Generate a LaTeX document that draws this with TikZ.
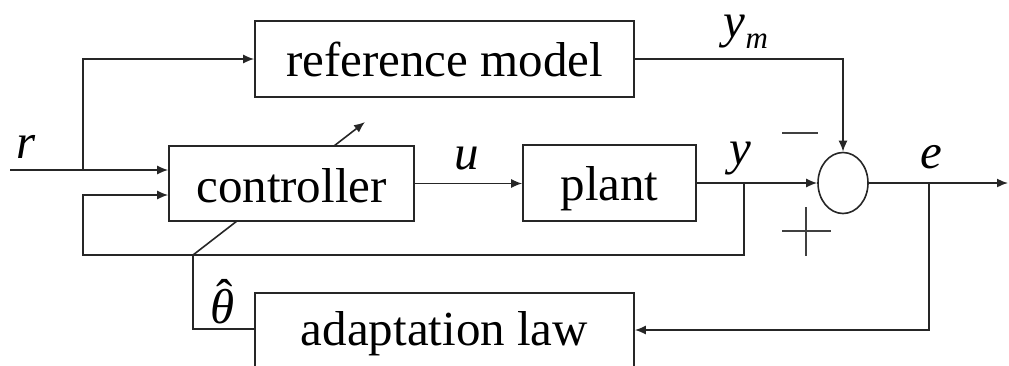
\documentclass[tikz,border=0pt]{standalone}
\usepackage{fontspec}
\setmainfont{Liberation Serif}
\usetikzlibrary{arrows.meta,shapes.geometric}
\colorlet{ln}{black!85}
\begin{document}
\begin{tikzpicture}[x=1pt,y=-1pt,
  line width=1.6pt,
  wire/.style={draw=ln},
  arr/.style={draw=ln,-{Latex[length=11pt,width=9pt]}},
  block/.style={draw=ln,line width=1.6pt,rectangle,inner sep=0pt,text height=35pt,text depth=0pt,font=\fontsize{49}{49}\selectfont},
  lbl/.style={inner sep=0pt,anchor=base,font=\fontsize{49}{49}\selectfont\itshape},
  sign/.style={line width=1.3pt,draw=black!75}]
\useasboundingbox (0,0) rectangle (1009,365);
\clip (0,0) rectangle (1009,365);

\node[block,minimum width=379pt,minimum height=76pt] (refm) at (444.5,59) {reference model};
\node[block,minimum width=173pt,minimum height=76pt] (plant) at (609.5,183) {plant};
\node[block,text height=12pt,minimum width=379pt,minimum height=92pt] (adapt) at (444.5,339) {adaptation law};
\node[draw=ln,line width=1.6pt,ellipse,inner sep=0pt,minimum width=50pt,minimum height=61pt] (sum) at (843,183) {};

\coordinate (rin) at (10,170);
\coordinate (rsplit) at (83,170);
\coordinate (fbl) at (83,195);
\coordinate (fbbl) at (83,255);
\coordinate (ysplit) at (744,183);
\coordinate (fbbr) at (744,255);
\coordinate (thstart) at (193,255);
\coordinate (thend) at (365,122);
\coordinate (thlow) at (193,329);
\coordinate (esplit) at (929,183);
\coordinate (elow) at (929,330);
\coordinate (out) at (1008,183);

% adaptation arrow through controller (drawn first, controller box covers it)
\draw[arr] (thstart) -- (thend);
\node[block,fill=white,text height=37pt,minimum width=245pt,minimum height=75pt] (ctrl) at (291.5,183.5) {controller};

% r input
\draw[arr] (rin) -- (ctrl.west |- rin);
\draw[arr] (rsplit) |- (refm.west);
% feedback of y
\draw[arr] (ysplit) -- (fbbr) -- (fbbl) -- (fbl) -- (ctrl.west |- fbl);
\draw[wire] (thstart) -- (thlow) -- (adapt.west |- thlow);
% forward path
\draw[arr] (ctrl.east) -- (plant.west |- ctrl.east);
\draw[arr] (plant.east) -- (sum.west);
\draw[arr] (refm.east) -| (sum.north);
\draw[arr] (sum.east) -- (out);
\draw[arr] (esplit) -- (elow) -- (adapt.east |- elow);

% signs
\draw[sign] (782,133) -- (818,133);
\draw[sign] (782,231) -- (831,231);
\draw[sign] (806,207) -- (806,256);

% labels
\node[lbl] (lr) at (26,158) {r};
\node[lbl] (lu) at (467,169) {u};
\node[lbl] (ly) at (740,164) {y};
\node[lbl] (lym) at (746,37) {y\raisebox{-11pt}{\fontsize{31}{31}\selectfont\itshape m}};
\node[lbl] (le) at (931,168) {e};
\node[lbl] (lth) at (223,323) {\makebox[0pt][l]{\hspace{5.8pt}\upshape\raisebox{10pt}{ˆ}}θ};
\end{tikzpicture}
\end{document}
